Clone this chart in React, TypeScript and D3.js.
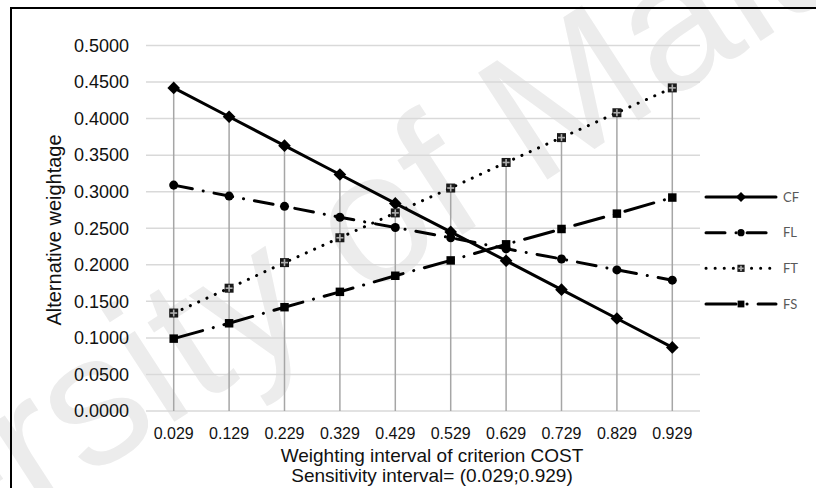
import React from "react";
import * as d3 from "d3";

// Weighting interval of the COST criterion
const categories = ["0.029", "0.129", "0.229", "0.329", "0.429", "0.529", "0.629", "0.729", "0.829", "0.929"];

// Alternative weightage for each alternative across the interval
const cfValues = [0.4420, 0.4025, 0.3630, 0.3235, 0.2840, 0.2450, 0.2055, 0.1660, 0.1265, 0.0870];
const flValues = [0.3090, 0.2940, 0.2800, 0.2650, 0.2510, 0.2370, 0.2220, 0.2080, 0.1930, 0.1790];
const ftValues = [0.1340, 0.1680, 0.2030, 0.2370, 0.2710, 0.3050, 0.3400, 0.3740, 0.4080, 0.4420];
const fsValues = [0.0990, 0.1200, 0.1420, 0.1630, 0.1850, 0.2060, 0.2280, 0.2490, 0.2700, 0.2920];

const seriesNames = ["CF", "FL", "FT", "FS"];

const W = 816;
const H = 488;
const plot = { left: 146, right: 700, top: 45.5, bottom: 411 };

type Marker = "diamond" | "circle" | "crossSquare" | "square";
const styles: Record<string, { dash: string; width: number; marker: Marker }> = {
  CF: { dash: "none", width: 3, marker: "diamond" },
  FL: { dash: "19,11,0.1,11", width: 3, marker: "circle" },
  FT: { dash: "0.1,9", width: 3, marker: "crossSquare" },
  FS: { dash: "30,11,0.1,11", width: 3, marker: "square" },
};

const axisFont = "'Liberation Sans', Arial, Helvetica, sans-serif";

function MarkerShape({ kind, x, y, scale = 1 }: { kind: Marker; x: number; y: number; scale?: number }) {
  if (kind === "diamond") {
    const p = d3.symbol(d3.symbolSquare, 80 * scale * scale)()!;
    return <path d={p} transform={`translate(${x},${y}) rotate(45)`} fill="#000" />;
  }
  if (kind === "circle") {
    const p = d3.symbol(d3.symbolCircle, 64 * scale * scale)()!;
    return <path d={p} transform={`translate(${x},${y})`} fill="#000" />;
  }
  if (kind === "square") {
    const p = d3.symbol(d3.symbolSquare, 72 * scale * scale)()!;
    return <path d={p} transform={`translate(${x},${y})`} fill="#000" />;
  }
  const s = 4.5 * scale;
  const p = d3.symbol(d3.symbolSquare, (2 * s) * (2 * s))()!;
  return (
    <g transform={`translate(${x},${y})`}>
      <path d={p} fill="#1a1a1a" />
      <line x1={-s + 1} x2={s - 1} y1={0} y2={0} stroke="#b0b0b0" strokeWidth={1.6} />
      <line x1={0} x2={0} y1={-s + 1} y2={s - 1} stroke="#b0b0b0" strokeWidth={1.6} />
    </g>
  );
}

export default function App() {
  const x = d3.scaleBand<string>().domain(categories).range([plot.left, plot.right]);
  const y = d3.scaleLinear().domain([0, 0.5]).range([plot.bottom, plot.top]);
  const cx = (c: string) => (x(c) ?? 0) + x.bandwidth() / 2;
  const yTicks = y.ticks(10);
  const fmt = d3.format(".4f");

  const seriesData: Record<string, number[]> = { CF: cfValues, FL: flValues, FT: ftValues, FS: fsValues };

  const line = d3
    .line<number>()
    .x((_, i) => cx(categories[i]))
    .y((v) => y(v));

  const legendY = d3.scalePoint<string>().domain(seriesNames).range([197, 304]);
  const titleX = 432;

  return (
    <div style={{ position: "fixed", left: 0, top: 0 }}>
      <svg width={W} height={H} style={{ display: "block", background: "#fff" }}>
        <rect x={0} y={0} width={W} height={H} fill="#fff" />

        {/* watermark */}
        <text
          x={-362}
          y={770}
          transform="rotate(-33,-362,770)"
          fontFamily={axisFont}
          fontSize={185}
          fill="#ececec"
        >
          University of Malaya
        </text>

        {/* horizontal gridlines */}
        {yTicks.map((t) => (
          <line key={t} x1={plot.left} x2={plot.right} y1={y(t)} y2={y(t)} stroke="#d9d9d9" strokeWidth={1.5} />
        ))}

        {/* drop lines */}
        {categories.map((c, i) => {
          const top = d3.max(seriesNames, (n) => seriesData[n][i]) ?? 0;
          return <line key={c} x1={cx(c)} x2={cx(c)} y1={y(top)} y2={y(0)} stroke="#a6a6a6" strokeWidth={1.5} />;
        })}

        {/* y tick labels */}
        {yTicks.map((t) => (
          <text key={t} x={129} y={y(t)} dy="0.35em" textAnchor="end" fontFamily={axisFont} fontSize={18} fill="#111">
            {fmt(t)}
          </text>
        ))}

        {/* x tick labels */}
        {categories.map((c) => (
          <text key={c} x={cx(c)} y={438.5} textAnchor="middle" fontFamily={axisFont} fontSize={16} fill="#111">
            {c}
          </text>
        ))}

        {/* axis titles */}
        <text x={titleX} y={462} textAnchor="middle" fontFamily={axisFont} fontSize={19} fill="#111">
          Weighting interval of criterion COST
        </text>
        <text x={titleX} y={481.5} textAnchor="middle" fontFamily={axisFont} fontSize={19} fill="#111">
          Sensitivity interval= (0.029;0.929)
        </text>
        <text
          transform={`translate(61,230) rotate(-90)`}
          textAnchor="middle"
          fontFamily={axisFont}
          fontSize={20}
          fill="#111"
        >
          Alternative weightage
        </text>

        {/* series */}
        {seriesNames.map((n) => {
          const st = styles[n];
          return (
            <g key={n}>
              <path
                d={line(seriesData[n]) ?? ""}
                fill="none"
                stroke="#000"
                strokeWidth={st.width}
                strokeDasharray={st.dash}
                strokeLinecap="round"
                strokeLinejoin="round"
              />
              {seriesData[n].map((v, i) => (
                <MarkerShape key={i} kind={st.marker} x={cx(categories[i])} y={y(v)} />
              ))}
            </g>
          );
        })}

        {/* legend */}
        {seriesNames.map((n) => {
          const st = styles[n];
          const ly = legendY(n) ?? 0;
          return (
            <g key={n}>
              <line
                x1={706}
                x2={776}
                y1={ly}
                y2={ly}
                stroke="#000"
                strokeWidth={st.width}
                strokeDasharray={st.dash}
                strokeLinecap="round"
              />
              <MarkerShape kind={st.marker} x={741} y={ly} scale={0.8} />
              <text x={783} y={ly} dy="0.35em" fontFamily="Lato, 'Open Sans', sans-serif" fontSize={13} fill="#595959">
                {n}
              </text>
            </g>
          );
        })}

        {/* chart border */}
        <rect x={11} y={8} width={W} height={H} fill="none" stroke="#000" strokeWidth={2} />
      </svg>
    </div>
  );
}
